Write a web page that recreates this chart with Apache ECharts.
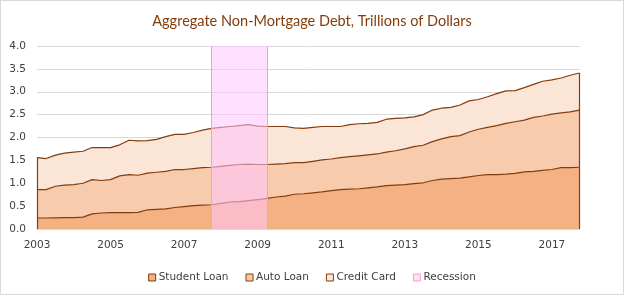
<!DOCTYPE html>
<html>
<head>
<meta charset="utf-8">
<script src="https://cdn.jsdelivr.net/npm/echarts@6/dist/echarts.min.js"></script>
<style>
  html, body { margin: 0; padding: 0; background: #fff; }
  #wrap { position: relative; width: 624px; height: 295px; }
  #chart { width: 624px; height: 295px; }
  #frame { position: absolute; left: 0; top: 0; width: 624px; height: 295px; box-sizing: border-box; border: 1px solid #D9D9D9; pointer-events: none; }
</style>
</head>
<body>
<div id="wrap"><div id="chart"></div><div id="frame"></div></div>
<script>
// Quarterly categories 2003Q1 .. 2017Q4
const quarters = [];
for (let y = 2003; y <= 2017; y++) for (let q = 1; q <= 4; q++) quarters.push(y + 'Q' + q);

// Trillions of dollars
const studentLoan = [0.24,0.24,0.245,0.25,0.25,0.26,0.33,0.35,0.36,0.36,0.36,0.365,0.42,0.43,0.44,0.47,0.49,0.51,0.52,0.53,
  0.56,0.59,0.60,0.62,0.64,0.67,0.70,0.72,0.76,0.77,0.79,0.81,0.84,0.86,0.87,0.88,0.90,0.92,0.95,0.96,
  0.97,0.99,1.01,1.06,1.09,1.10,1.11,1.14,1.17,1.19,1.19,1.20,1.215,1.25,1.26,1.28,1.30,1.34,1.34,1.35];
const autoLoan = [0.62,0.62,0.69,0.71,0.72,0.74,0.75,0.71,0.72,0.80,0.83,0.81,0.80,0.81,0.82,0.83,0.81,0.81,0.82,0.82,
  0.81,0.80,0.81,0.80,0.77,0.74,0.72,0.71,0.69,0.68,0.69,0.70,0.69,0.70,0.71,0.72,0.72,0.72,0.73,0.75,
  0.78,0.81,0.82,0.85,0.88,0.92,0.93,0.98,1.01,1.03,1.07,1.11,1.13,1.13,1.18,1.19,1.21,1.20,1.22,1.25];
const creditCard = [0.70,0.68,0.68,0.70,0.71,0.70,0.70,0.72,0.70,0.68,0.75,0.75,0.71,0.72,0.76,0.77,0.77,0.79,0.82,0.85,
  0.85,0.85,0.85,0.86,0.84,0.83,0.82,0.81,0.76,0.75,0.74,0.73,0.71,0.68,0.70,0.70,0.69,0.69,0.72,0.71,
  0.68,0.65,0.67,0.69,0.67,0.64,0.67,0.68,0.65,0.67,0.70,0.71,0.68,0.71,0.72,0.76,0.75,0.76,0.80,0.81];
const recessionStart = '2007Q4';
const recessionEnd = '2009Q2';
const yTicks = [0, 0.5, 1, 1.5, 2, 2.5, 3, 3.5, 4];

const edge = '#843C0C';
const fills = ['#F4B183', '#F8CBAD', '#FBE5D6'];
const font = 'DejaVu Sans';
const n = quarters.length;
const total = i => +(studentLoan[i] + autoLoan[i] + creditCard[i]).toFixed(3);

function areaSeries(name, data, color, extra) {
  return Object.assign({
    name, type: 'line', stack: 'debt', data,
    symbol: 'none', smooth: false, z: 2,
    lineStyle: { color: edge, width: 1.2 },
    itemStyle: { color: color },
    areaStyle: { color: color, opacity: 1 }
  }, extra || {});
}

const chart = echarts.init(document.getElementById('chart'), null, { renderer: 'canvas' });
chart.setOption({
  animation: false,
  title: {
    text: 'Aggregate Non-Mortgage Debt, Trillions of Dollars',
    left: 'center', top: 9,
    textStyle: { fontFamily: 'Lato', fontSize: 14.5, fontWeight: 'normal', color: '#843C0C' }
  },
  legend: {
    bottom: 7, left: 'center',
    itemWidth: 7, itemHeight: 7, itemGap: 17,
    textStyle: { fontFamily: font, fontSize: 10.5, color: '#404040', padding: [0, 0, 0, -2] },
    data: [
      { name: 'Student Loan', icon: 'rect', itemStyle: { color: fills[0], borderColor: edge, borderWidth: 1 } },
      { name: 'Auto Loan', icon: 'rect', itemStyle: { color: fills[1], borderColor: edge, borderWidth: 1 } },
      { name: 'Credit Card', icon: 'rect', itemStyle: { color: fills[2], borderColor: edge, borderWidth: 1 } },
      { name: 'Recession', icon: 'rect', itemStyle: { color: '#FFE0FF', borderColor: '#FF99CC', borderWidth: 1 } }
    ]
  },
  grid: { left: 37, right: 44.5, top: 46, bottom: 66, containLabel: false },
  xAxis: {
    type: 'category', data: quarters, boundaryGap: false,
    axisLine: { lineStyle: { color: '#D9D9D9' } },
    axisTick: { show: false },
    axisLabel: {
      interval: 7, margin: 11, color: '#404040', fontFamily: font, fontSize: 10.5,
      formatter: v => v.slice(0, 4)
    },
    splitLine: { show: false }
  },
  yAxis: {
    type: 'value', min: yTicks[0], max: yTicks[yTicks.length - 1], interval: 0.5,
    axisLine: { show: false }, axisTick: { show: false },
    axisLabel: { margin: 11, color: '#404040', fontFamily: font, fontSize: 10.5, formatter: v => v.toFixed(1) },
    splitLine: { lineStyle: { color: '#D9D9D9' } }
  },
  series: [
    areaSeries('Student Loan', studentLoan, fills[0]),
    areaSeries('Auto Loan', autoLoan, fills[1]),
    areaSeries('Credit Card', creditCard, fills[2], {
      markLine: {
        silent: true, symbol: 'none', label: { show: false },
        lineStyle: { color: edge, width: 1.2, type: 'solid' },
        data: [
          [{ coord: [quarters[0], 0] }, { coord: [quarters[0], total(0)] }],
          [{ coord: [quarters[n - 1], 0] }, { coord: [quarters[n - 1], total(n - 1)] }]
        ]
      }
    }),
    {
      name: 'Recession', type: 'line', data: [], zlevel: 1, z: 10,
      itemStyle: { color: '#FFE0FF' },
      markArea: {
        silent: true, z: 10, zlevel: 1,
        itemStyle: { color: 'rgba(255,196,255,0.55)', borderWidth: 0 },
        data: [[{ xAxis: recessionStart }, { xAxis: recessionEnd }]]
      },
      markLine: {
        silent: true, symbol: 'none', label: { show: false }, z: 11, zlevel: 1,
        lineStyle: { color: '#FF99CC', width: 1, type: 'solid' },
        data: [{ xAxis: recessionStart }, { xAxis: recessionEnd }]
      }
    }
  ]
});
</script>
</body>
</html>
